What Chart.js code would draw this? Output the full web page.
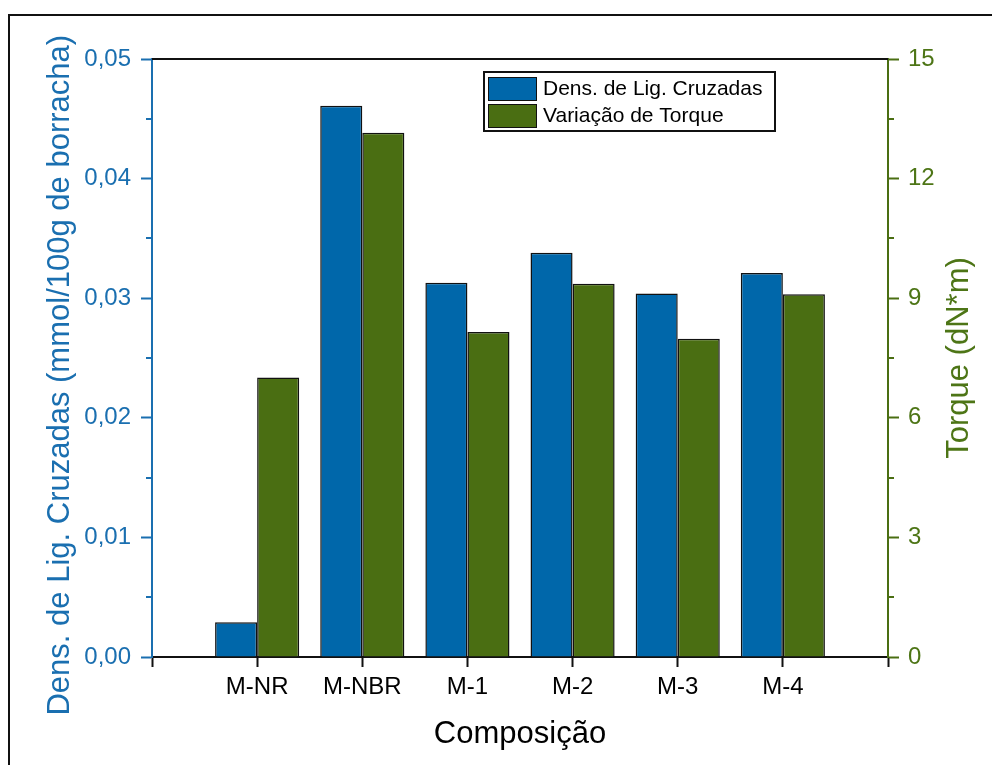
<!DOCTYPE html>
<html>
<head>
<meta charset="utf-8">
<script src="https://cdn.jsdelivr.net/npm/chart.js@4.4.1/dist/chart.umd.min.js"></script>
<style>
  html, body { margin: 0; padding: 0; background: #fff; }
  #wrap { position: relative; width: 992px; height: 765px; overflow: hidden; }
  #frame { position: absolute; left: 8px; top: 14px; width: 1200px; height: 1000px;
           border-left: 2px solid #111; border-top: 2px solid #111; pointer-events: none; }
  canvas { display: block; }
</style>
</head>
<body>
<div id="wrap">
  <canvas id="chart" width="992" height="765"></canvas>
  <div id="frame"></div>
</div>
<script>
// Composições avaliadas
const categories = ['M-NR', 'M-NBR', 'M-1', 'M-2', 'M-3', 'M-4'];
// Densidade de ligações cruzadas (mmol/100g de borracha)
const crosslinkDensity = [0.0029, 0.0461, 0.0313, 0.0338, 0.0304, 0.0321];
// Variação de torque (dN*m)
const torqueVariation = [7.01, 13.15, 8.15, 9.36, 7.98, 9.10];
// Marcas dos eixos
const leftTicks = [0, 0.01, 0.02, 0.03, 0.04, 0.05];
const rightTicks = [0, 3, 6, 9, 12, 15];

const BLUE = '#0067aa';
const BLUE_TXT = '#1a6fb0';
const GREEN = '#4a6e12';
const GREEN_TXT = '#4d7516';
const FONT = '"Liberation Sans", Arial, sans-serif';
const RIGHT_TITLE = 'Torque (dN*m)';

Chart.defaults.font.family = FONT;

// empty slot on each side of the categories
const labels = [''].concat(categories, ['']);
const pad = arr => [null].concat(arr, [null]);

// top border of the plot, minor ticks on both value axes, right-hand title
const framePlugin = {
  id: 'framePlugin',
  afterDraw(chart) {
    const ctx = chart.ctx;
    const a = chart.chartArea;
    ctx.save();
    ctx.strokeStyle = '#111';
    ctx.lineWidth = 2;
    ctx.beginPath();
    ctx.moveTo(a.left, a.top);
    ctx.lineTo(a.right, a.top);
    ctx.stroke();

    const minor = (scale, color, dir) => {
      const vals = scale.ticks.map(t => t.value);
      ctx.strokeStyle = color;
      ctx.lineWidth = 2;
      for (let i = 0; i < vals.length - 1; i++) {
        const y = Math.round(scale.getPixelForValue((vals[i] + vals[i + 1]) / 2));
        const x0 = dir < 0 ? a.left : a.right;
        ctx.beginPath();
        ctx.moveTo(x0, y);
        ctx.lineTo(x0 + dir * 6, y);
        ctx.stroke();
      }
    };
    minor(chart.scales.y, BLUE_TXT, -1);
    minor(chart.scales.y2, GREEN, 1);

    // right axis title, reading bottom to top
    const s = chart.scales.y2;
    ctx.translate(s.right - 33, (s.top + s.bottom) / 2);
    ctx.rotate(-Math.PI / 2);
    ctx.font = '31px ' + FONT;
    ctx.fillStyle = GREEN_TXT;
    ctx.textAlign = 'center';
    ctx.textBaseline = 'middle';
    ctx.fillText(RIGHT_TITLE, 0, 0);
    ctx.restore();
  }
};

// legend box inside the plot
const boxLegend = {
  id: 'boxLegend',
  afterDraw(chart) {
    const ctx = chart.ctx;
    const a = chart.chartArea;
    const x = a.left + 332, y = a.top + 13, w = 291, h = 59;
    ctx.save();
    ctx.fillStyle = '#fff';
    ctx.fillRect(x, y, w, h);
    ctx.strokeStyle = '#111';
    ctx.lineWidth = 2;
    ctx.strokeRect(x, y, w, h);
    ctx.font = '21px ' + FONT;
    ctx.textBaseline = 'middle';
    chart.data.datasets.forEach((ds, i) => {
      const ry = y + 5 + i * 27;
      ctx.fillStyle = ds.backgroundColor;
      ctx.fillRect(x + 4, ry, 48, 23);
      ctx.lineWidth = 1;
      ctx.strokeStyle = '#111';
      ctx.strokeRect(x + 4.5, ry + 0.5, 48, 23);
      ctx.fillStyle = '#000';
      ctx.fillText(ds.label, x + 59, ry + 12.5);
    });
    ctx.restore();
  }
};

new Chart(document.getElementById('chart'), {
  type: 'bar',
  data: {
    labels: labels,
    datasets: [
      {
        label: 'Dens. de Lig. Cruzadas',
        data: pad(crosslinkDensity),
        yAxisID: 'y',
        backgroundColor: BLUE,
        borderColor: '#111',
        borderWidth: 1.5,
        borderSkipped: 'bottom'
      },
      {
        label: 'Variação de Torque',
        data: pad(torqueVariation),
        yAxisID: 'y2',
        backgroundColor: GREEN,
        borderColor: '#111',
        borderWidth: 1.5,
        borderSkipped: 'bottom'
      }
    ]
  },
  options: {
    responsive: false,
    animation: false,
    devicePixelRatio: 1,
    categoryPercentage: 0.8,
    barPercentage: 1.0,
    layout: { padding: { top: 59, left: 0, right: 0, bottom: 0 } },
    plugins: { legend: { display: false }, tooltip: { enabled: false } },
    scales: {
      x: {
        type: 'category',
        offset: false,
        grid: { display: true, offset: false, drawOnChartArea: false, drawTicks: true,
                tickLength: 10, tickWidth: 2, tickColor: '#111' },
        border: { color: '#111', width: 2 },
        ticks: { color: '#000', font: { size: 24 }, padding: 6, autoSkip: false, maxRotation: 0 },
        title: { display: true, text: 'Composição', color: '#000', font: { size: 31 },
                 padding: { top: 0, bottom: 12 } },
        afterFit(s) { s.height = 108; }
      },
      y: {
        position: 'left',
        min: 0, max: 0.05,
        afterBuildTicks(s) { s.ticks = leftTicks.map(v => ({ value: v })); },
        grid: { drawOnChartArea: false, tickLength: 11, tickWidth: 2, tickColor: BLUE_TXT },
        border: { color: BLUE_TXT, width: 2 },
        ticks: { color: BLUE_TXT, font: { size: 24 }, padding: 10,
                 callback: v => Number(v).toFixed(2).replace('.', ',') },
        title: { display: true, text: 'Dens. de Lig. Cruzadas (mmol/100g de borracha)    ',
                 color: BLUE_TXT, font: { size: 31 }, padding: { top: 42, bottom: 0 } },
        afterFit(s) { s.width = 152; }
      },
      y2: {
        position: 'right',
        min: 0, max: 15,
        afterBuildTicks(s) { s.ticks = rightTicks.map(v => ({ value: v })); },
        grid: { drawOnChartArea: false, tickLength: 11, tickWidth: 2, tickColor: GREEN },
        border: { color: GREEN, width: 2 },
        ticks: { color: GREEN_TXT, font: { size: 24 }, padding: 9 },
        title: { display: false },
        afterFit(s) { s.width = 104; }
      }
    }
  },
  plugins: [framePlugin, boxLegend]
});
</script>
</body>
</html>
